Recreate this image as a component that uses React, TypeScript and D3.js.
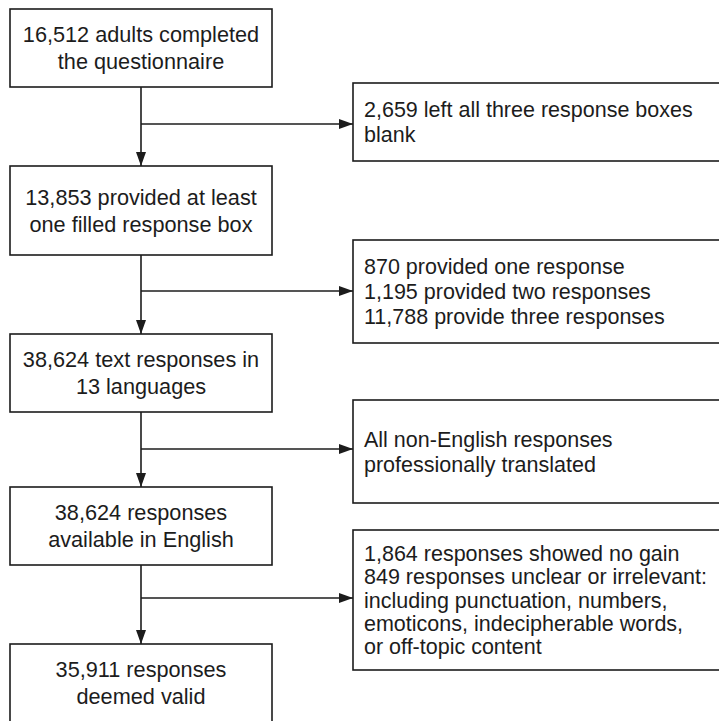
import * as React from 'react'
import * as d3 from 'd3'

// main column steps
const mainSteps: string[][] = [
  ['16,512 adults completed', 'the questionnaire'],
  ['13,853 provided at least', 'one filled response box'],
  ['38,624 text responses in', '13 languages'],
  ['38,624 responses', 'available in English'],
  ['35,911 responses', 'deemed valid'],
];

// side boxes (exclusions / notes)
const sideNotes: string[][] = [
  ['2,659 left all three response boxes', 'blank'],
  ['870 provided one response', '1,195 provided two responses', '11,788 provide three responses'],
  ['All non-English responses', 'professionally translated'],
  [
    '1,864 responses showed no gain',
    '849 responses unclear or irrelevant:',
    'including punctuation, numbers,',
    'emoticons, indecipherable words,',
    'or off-topic content',
  ],
];

const W = 719;
const H = 721;

// layout
const mainBox = { x0: 10, x1: 272 };
const mainTops = [9, 166, 334, 487, 644];
const mainBottoms = [87, 255, 412, 565, 725];
const sideBox = { x0: 353, x1: 730 };
const sideTops = [83, 240, 400, 530];
const sideBottoms = [161, 343, 503, 670];
const sideLineH = [25, 25, 25, 23.4];
const branchY = [124, 291, 449, 598];
const stemX = 141;

const FONT = '"Liberation Sans", Arial, Helvetica, sans-serif';
const INK = '#1c1c1c';

const FlowChart: React.FC = () => {
  const ref = React.useRef<SVGSVGElement>(null);

  React.useEffect(() => {
    const svg = d3.select(ref.current);
    svg.selectAll('*').remove();

    svg.append('defs')
      .append('marker')
      .attr('id', 'arrow')
      .attr('viewBox', '0 0 14 10')
      .attr('refX', 14)
      .attr('refY', 5)
      .attr('markerWidth', 14)
      .attr('markerHeight', 10)
      .attr('markerUnits', 'userSpaceOnUse')
      .attr('orient', 'auto')
      .append('path')
      .attr('d', 'M0,0 L14,5 L0,10 Z')
      .attr('fill', INK);

    const line = d3.line<[number, number]>();

    // main boxes
    const mg = svg.selectAll('g.main')
      .data(mainSteps)
      .enter()
      .append('g')
      .attr('class', 'main');

    mg.append('rect')
      .attr('x', mainBox.x0)
      .attr('y', (d, i) => mainTops[i])
      .attr('width', mainBox.x1 - mainBox.x0)
      .attr('height', (d, i) => mainBottoms[i] - mainTops[i])
      .attr('fill', 'white')
      .attr('stroke', INK)
      .attr('stroke-width', 1.6);

    mg.each(function (d, i) {
      const cy = (mainTops[i] + Math.min(mainBottoms[i], 722)) / 2;
      const lh = 27;
      const start = cy - ((d.length - 1) * lh) / 2;
      d3.select(this)
        .selectAll('text')
        .data(d)
        .enter()
        .append('text')
        .attr('x', (mainBox.x0 + mainBox.x1) / 2)
        .attr('y', (t, j) => start + j * lh)
        .attr('dy', '0.35em')
        .attr('text-anchor', 'middle')
        .attr('font-family', FONT)
        .attr('font-size', 21.7)
        .attr('fill', INK)
        .text(t => t);
    });

    // side boxes
    const sg = svg.selectAll('g.side')
      .data(sideNotes)
      .enter()
      .append('g')
      .attr('class', 'side');

    sg.append('rect')
      .attr('x', sideBox.x0)
      .attr('y', (d, i) => sideTops[i])
      .attr('width', sideBox.x1 - sideBox.x0)
      .attr('height', (d, i) => sideBottoms[i] - sideTops[i])
      .attr('fill', 'white')
      .attr('stroke', INK)
      .attr('stroke-width', 1.6);

    sg.each(function (d, i) {
      const cy = (sideTops[i] + sideBottoms[i]) / 2;
      const lh = sideLineH[i];
      const start = cy - ((d.length - 1) * lh) / 2;
      d3.select(this)
        .selectAll('text')
        .data(d)
        .enter()
        .append('text')
        .attr('x', sideBox.x0 + 11)
        .attr('y', (t, j) => start + j * lh)
        .attr('dy', '0.35em')
        .attr('font-family', FONT)
        .attr('font-size', 21.5)
        .attr('fill', INK)
        .text(t => t);
    });

    // vertical arrows between main boxes
    svg.selectAll('path.down')
      .data(d3.range(mainSteps.length - 1))
      .enter()
      .append('path')
      .attr('class', 'down')
      .attr('d', i => line([[stemX, mainBottoms[i]], [stemX, mainTops[i + 1]]]))
      .attr('fill', 'none')
      .attr('stroke', INK)
      .attr('stroke-width', 1.6)
      .attr('marker-end', 'url(#arrow)');

    // branch arrows to side boxes
    svg.selectAll('path.branch')
      .data(branchY)
      .enter()
      .append('path')
      .attr('class', 'branch')
      .attr('d', y => line([[stemX, y], [sideBox.x0, y]]))
      .attr('fill', 'none')
      .attr('stroke', INK)
      .attr('stroke-width', 1.6)
      .attr('marker-end', 'url(#arrow)');
  }, []);

  return <svg ref={ref} width={W} height={H} style={{ position: 'absolute', left: 0, top: 0, background: 'white' }}></svg>;
};

export default function App() {
  return <FlowChart />;
}
